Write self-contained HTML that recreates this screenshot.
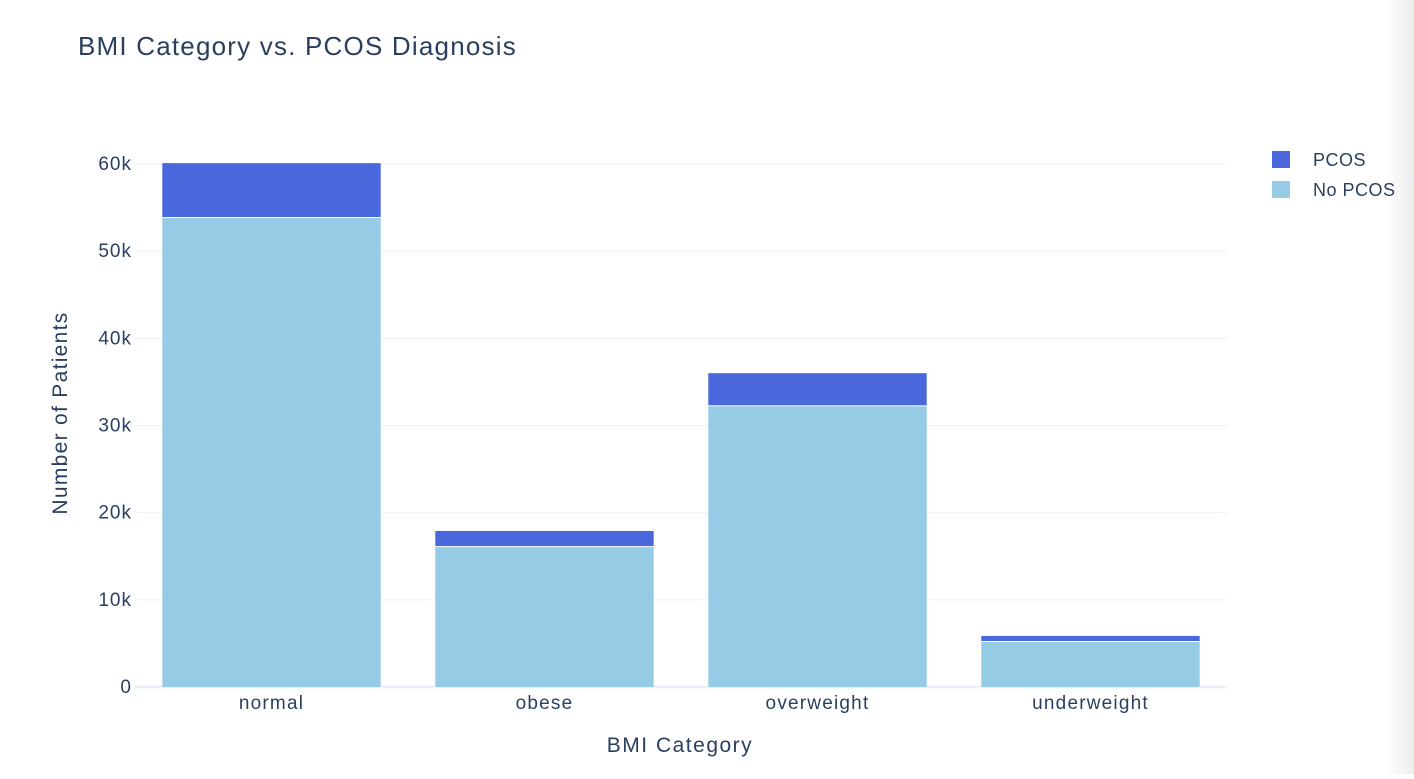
<!DOCTYPE html>
<html><head><meta charset="utf-8"><style>
body{margin:0;background:#fff;width:1414px;height:774px;overflow:hidden;font-family:"Liberation Sans",sans-serif}
text{font-family:"Liberation Sans",sans-serif;fill:#2a3f5f}
</style></head><body>
<svg id="chart" width="1414" height="774">
<defs><linearGradient id="edge" x1="0" x2="1"><stop offset="0" stop-color="#fff"/><stop offset="1" stop-color="#ececec"/></linearGradient></defs>
<rect x="1385" y="0" width="29" height="774" fill="url(#edge)"/>
<text x="78" y="55" font-size="26" letter-spacing="1.2">BMI Category vs. PCOS Diagnosis</text>
<g id="grid"></g><g id="bars"></g><g id="xt"></g>
<text transform="translate(67,413) rotate(-90)" text-anchor="middle" font-size="21" letter-spacing="1.3">Number of Patients</text>
<text x="680" y="752" text-anchor="middle" font-size="21" letter-spacing="1.5">BMI Category</text>
<g>
<rect x="1272" y="151" width="18" height="17" fill="#4a68db"/>
<text x="1313" y="166" font-size="18" letter-spacing="0.5">PCOS</text>
<rect x="1272" y="181" width="18" height="17" fill="#96cbe6"/>
<text x="1313" y="196" font-size="18" letter-spacing="0.5">No PCOS</text>
</g>
</svg>
<script>
const categories=["normal","obese","overweight","underweight"];
const noPcos=[53800,16050,32200,5160];
const pcos=[6300,1850,3800,700];
const yTicks=[0,10000,20000,30000,40000,50000,60000];
const yTickLabels=["0","10k","20k","30k","40k","50k","60k"];
const NS="http://www.w3.org/2000/svg";
const L=135,R=1227,Y0=687,PX=523/60000;
const y=v=>Y0-v*PX;
const band=(R-L)/categories.length;
const xc=i=>L+band*(i+0.5);
const bw=band*0.8;
function mk(t,a,p){const e=document.createElementNS(NS,t);for(const k in a)e.setAttribute(k,a[k]);p.appendChild(e);return e;}
const g=document.getElementById('grid');
yTicks.forEach((v,i)=>{
 const ln=mk('line',{x1:L,x2:R,y1:y(v),y2:y(v),stroke:'#ebf0f8','stroke-width':v===0?3:1},g);
 
 
 const t=mk('text',{x:L-3,y:y(v)+6,'text-anchor':'end','font-size':19,'letter-spacing':1},g);
 t.textContent=yTickLabels[i];
 
 
});
const b=document.getElementById('bars'),xt=document.getElementById('xt');
categories.forEach((c,i)=>{
 const x=xc(i)-bw/2;
 const r1=mk('rect',{x:x,y:y(noPcos[i]),width:bw,height:noPcos[i]*PX,fill:'#96cbe6'},b);
 
 
 const r2=mk('rect',{x:x,y:y(noPcos[i]+pcos[i]),width:bw,height:pcos[i]*PX-1,fill:'#4a68db'},b);
 
 
 const t=mk('text',{x:xc(i),y:709,'text-anchor':'middle','font-size':19,'letter-spacing':1.2},xt);
 t.textContent=c;
 
 
});
</script>
</body></html>
